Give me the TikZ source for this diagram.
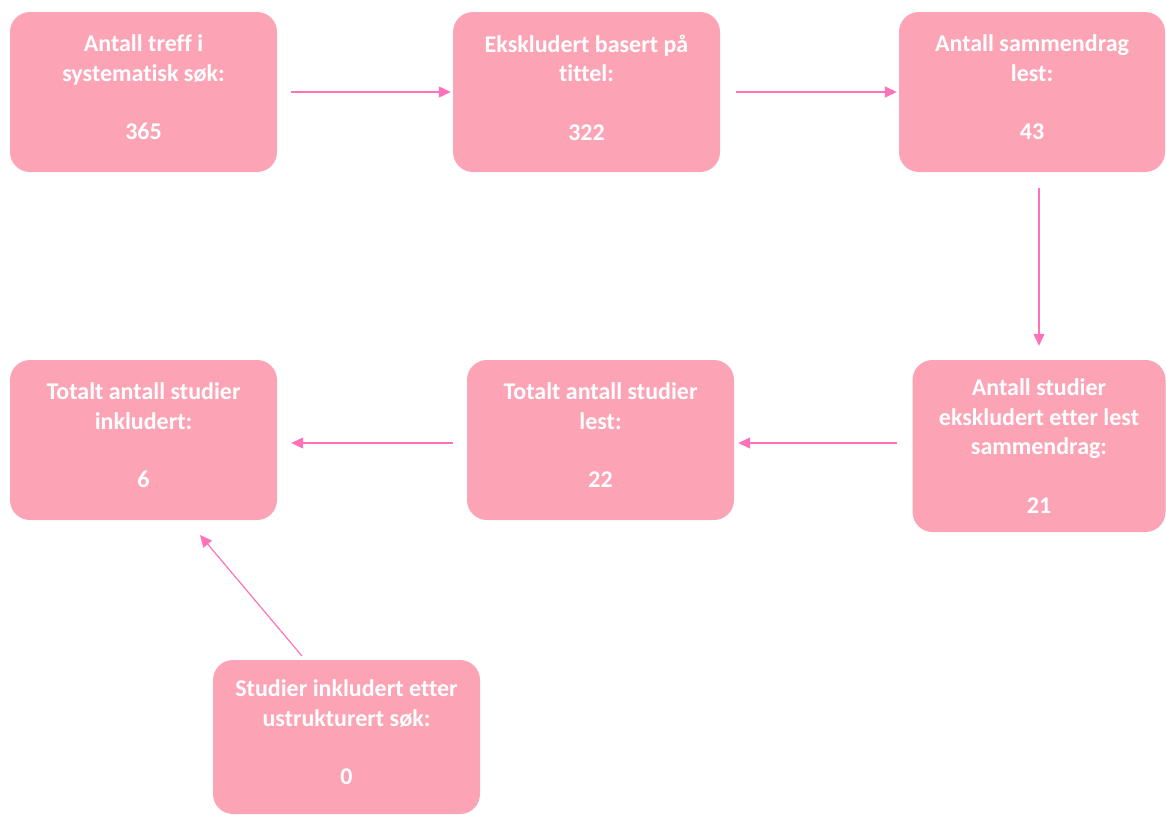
\documentclass[tikz,border=0pt]{standalone}
\usepackage{fontspec}
\setmainfont{Carlito}[Ligatures=CommonOff]
\usetikzlibrary{arrows.meta}
\definecolor{boxfill}{HTML}{FCA4B5}
\definecolor{arrowcol}{HTML}{FF72B8}
\newcommand{\lift}{\rule[-9pt]{0pt}{0pt}}
\tikzset{
  stepbox/.style={draw=none, fill=boxfill, rounded corners=20pt, inner sep=0pt,
    text=white, font=\fontsize{24}{29.5}\selectfont\bfseries, align=center},
  flow/.style={draw=arrowcol, line width=1.2pt, -{Triangle[length=12pt,width=11pt]}}
}
\begin{document}
\begin{tikzpicture}[x=1pt,y=-1pt]
\useasboundingbox (0,0) rectangle (1166,814);
\node[stepbox, minimum width=267pt, minimum height=160pt] (b1) at (143.5,92) {Antall treff i\\systematisk søk:\\[29pt]365\lift};
\node[stepbox, minimum width=267pt, minimum height=160pt] (b2) at (586.5,92) {Ekskludert basert på\\tittel:\\[29pt]322\lift};
\node[stepbox, minimum width=266pt, minimum height=160pt] (b3) at (1032,92) {Antall sammendrag\\lest:\\[29pt]43\lift};
\node[stepbox, minimum width=253pt, minimum height=172pt] (b4) at (1039,446) {Antall studier\\ekskludert etter lest\\sammendrag:\\[29pt]21};
\node[stepbox, minimum width=267pt, minimum height=160pt] (b5) at (600.5,440) {Totalt antall studier\\lest:\\[29pt]22\lift};
\node[stepbox, minimum width=267pt, minimum height=160pt] (b6) at (143.5,440) {Totalt antall studier\\inkludert:\\[29pt]6\lift};
\node[stepbox, minimum width=267pt, minimum height=154pt] (b7) at (346.5,737) {Studier inkludert etter\\ustrukturert søk:\\[29pt]0\lift};
\coordinate (a6s) at (302,656);
\coordinate (a6e) at (200,535);
\coordinate (r2) at (0,443);
\draw[flow, shorten <=14pt, shorten >=2pt] (b1.east) -- (b2.west);
\draw[flow, shorten <=16pt, shorten >=2pt] (b2.east) -- (b3.west);
\draw[flow, shorten <=16pt, shorten >=14pt] (b3.south -| b4.north) -- (b4.north);
\draw[flow, shorten <=15pt, shorten >=4pt] (b4.west |- r2) -- (b5.east |- r2);
\draw[flow, shorten <=14pt, shorten >=14pt] (b5.west |- r2) -- (b6.east |- r2);
\draw[flow] (a6s) -- (a6e);
\end{tikzpicture}
\end{document}
